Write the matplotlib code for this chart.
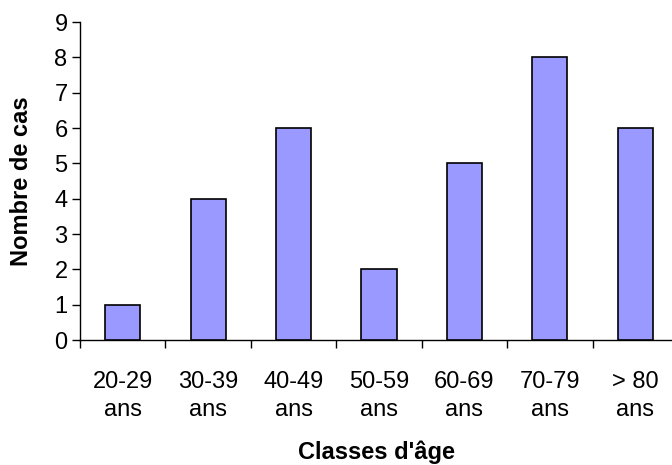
import matplotlib
matplotlib.use("Agg")
import matplotlib.pyplot as plt
import numpy as np

categories = ["20-29\nans", "30-39\nans", "40-49\nans", "50-59\nans", "60-69\nans", "70-79\nans", "> 80\nans"]
values = [1, 4, 6, 2, 5, 8, 6]
y_ticks = list(range(0, 10))

plt.rcParams['font.family'] = ['Liberation Sans', 'DejaVu Sans']

fig = plt.figure(figsize=(6.72, 4.65), dpi=100)
ax = fig.add_axes([80/672, 1-340/465, 598/672, 318/465])

x = np.arange(len(categories))
ax.bar(x, values, width=0.41, color="#9999FF", edgecolor="black", linewidth=1.2, zorder=3)

ax.set_xlim(-0.5, len(categories) - 0.5)
ax.set_ylim(0, 9)
ax.set_yticks(y_ticks)
ax.tick_params(axis='y', direction='out', length=6, width=1, labelsize=17, pad=3)

ax.set_xticks(x)
ax.set_xticklabels(categories, fontsize=17, linespacing=1.38)
ax.tick_params(axis='x', which='major', length=0, pad=22)
ax.set_xticks(np.arange(-0.5, len(categories), 1), minor=True)
ax.tick_params(axis='x', which='minor', direction='out', length=6, width=1)

for s in ['top', 'right']:
    ax.spines[s].set_visible(False)
for s in ['left', 'bottom']:
    ax.spines[s].set_linewidth(1)

ax.set_ylabel("Nombre de cas", fontsize=17, fontweight='bold')
ax.yaxis.set_label_coords(-47/598, 0.5)
fig.text((80 + 672) / 2 / 672, 1 - 459/465, "Classes d'âge", fontsize=17, fontweight='bold', ha='center', va='baseline')

fig.savefig("out.png", dpi=100)
